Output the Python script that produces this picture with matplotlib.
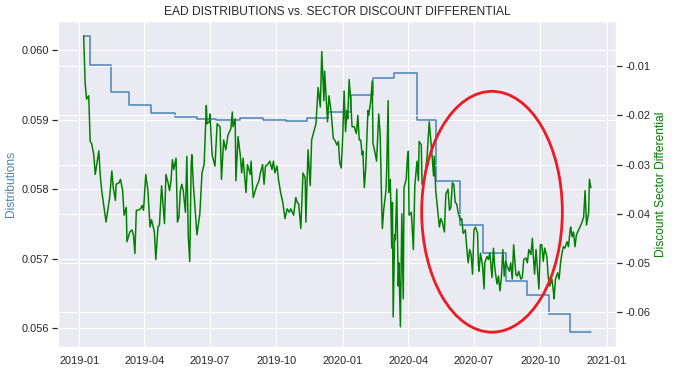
import matplotlib
matplotlib.use("Agg")

import matplotlib.dates as mdates
import matplotlib.pyplot as plt
import pandas as pd
import seaborn as sns
from matplotlib.patches import Ellipse

# monthly distribution level (step series)
blue_dates = [
    "2019-01-07", "2019-01-16", "2019-02-14", "2019-03-11", "2019-04-11",
    "2019-05-14", "2019-06-13", "2019-07-10", "2019-08-12", "2019-09-12",
    "2019-10-15", "2019-11-12", "2019-12-12", "2020-01-13", "2020-02-12",
    "2020-03-12", "2020-04-13", "2020-05-10", "2020-06-12", "2020-07-13",
    "2020-08-14", "2020-09-12", "2020-10-13", "2020-11-11", "2020-12-10",
]
blue_values = [
    0.060210, 0.059793, 0.059405, 0.059209, 0.059103,
    0.059045, 0.059012, 0.058998, 0.059022, 0.058994,
    0.058983, 0.059022, 0.059117, 0.059357, 0.059597,
    0.059678, 0.058998, 0.058125, 0.057488, 0.057090,
    0.056687, 0.056482, 0.056204, 0.055945, 0.055945,
]

# sector discount differential
green_dates = [
    "2019-01-07", "2019-01-09", "2019-01-11", "2019-01-14", "2019-01-16", "2019-01-18", "2019-01-21", "2019-01-23", "2019-01-28", "2019-01-30",
    "2019-02-01", "2019-02-07", "2019-02-12", "2019-02-13", "2019-02-15", "2019-02-17", "2019-02-20", "2019-02-21", "2019-02-25", "2019-02-27",
    "2019-03-02", "2019-03-04", "2019-03-07", "2019-03-08", "2019-03-12", "2019-03-15", "2019-03-17", "2019-03-19", "2019-03-21", "2019-03-23",
    "2019-03-27", "2019-03-29", "2019-03-31", "2019-04-03", "2019-04-06", "2019-04-09", "2019-04-11", "2019-04-15", "2019-04-17", "2019-04-20",
    "2019-04-22", "2019-04-25", "2019-04-29", "2019-05-01", "2019-05-04", "2019-05-06", "2019-05-08", "2019-05-10", "2019-05-12", "2019-05-15",
    "2019-05-17", "2019-05-19", "2019-05-21", "2019-05-23", "2019-05-25", "2019-05-28", "2019-05-30", "2019-06-01", "2019-06-03", "2019-06-05",
    "2019-06-06", "2019-06-08", "2019-06-10", "2019-06-13", "2019-06-17", "2019-06-20", "2019-06-23", "2019-06-26", "2019-06-27", "2019-06-30",
    "2019-07-01", "2019-07-04", "2019-07-08", "2019-07-11", "2019-07-15", "2019-07-17", "2019-07-20", "2019-07-23", "2019-07-26", "2019-07-30",
    "2019-08-01", "2019-08-02", "2019-08-05", "2019-08-06", "2019-08-09", "2019-08-12", "2019-08-14", "2019-08-16", "2019-08-20", "2019-08-22",
    "2019-08-26", "2019-08-27", "2019-08-30", "2019-09-04", "2019-09-07", "2019-09-09", "2019-09-12", "2019-09-14", "2019-09-16", "2019-09-19",
    "2019-09-22", "2019-09-25", "2019-09-27", "2019-09-29", "2019-10-02", "2019-10-04", "2019-10-07", "2019-10-10", "2019-10-13", "2019-10-16",
    "2019-10-19", "2019-10-21", "2019-10-25", "2019-10-28", "2019-10-30", "2019-11-01", "2019-11-04", "2019-11-07", "2019-11-10", "2019-11-11",
    "2019-11-14", "2019-11-17", "2019-11-19", "2019-11-22", "2019-11-25", "2019-11-28", "2019-12-01", "2019-12-03", "2019-12-06", "2019-12-07",
    "2019-12-11", "2019-12-13", "2019-12-16", "2019-12-19", "2019-12-21", "2019-12-24", "2019-12-26", "2019-12-28", "2019-12-30", "2020-01-01",
    "2020-01-03", "2020-01-05", "2020-01-07", "2020-01-08", "2020-01-10", "2020-01-12", "2020-01-14", "2020-01-17", "2020-01-20", "2020-01-22",
    "2020-01-24", "2020-01-26", "2020-01-28", "2020-01-29", "2020-01-31", "2020-02-02", "2020-02-05", "2020-02-06", "2020-02-09", "2020-02-11",
    "2020-02-12", "2020-02-15", "2020-02-17", "2020-02-20", "2020-02-22", "2020-02-24", "2020-02-25", "2020-02-27", "2020-03-01", "2020-03-02",
    "2020-03-04", "2020-03-05", "2020-03-07", "2020-03-09", "2020-03-10", "2020-03-11", "2020-03-13", "2020-03-14", "2020-03-16", "2020-03-18",
    "2020-03-19", "2020-03-21", "2020-03-23", "2020-03-25", "2020-03-26", "2020-03-29", "2020-03-31", "2020-04-01", "2020-04-02", "2020-04-05",
    "2020-04-06", "2020-04-08", "2020-04-10", "2020-04-13", "2020-04-15", "2020-04-16", "2020-04-19", "2020-04-20", "2020-04-23", "2020-04-25",
    "2020-04-27", "2020-04-30", "2020-05-02", "2020-05-04", "2020-05-06", "2020-05-07", "2020-05-09", "2020-05-11", "2020-05-14", "2020-05-16",
    "2020-05-18", "2020-05-21", "2020-05-23", "2020-05-26", "2020-05-28", "2020-05-30", "2020-06-01", "2020-06-03", "2020-06-05", "2020-06-07",
    "2020-06-09", "2020-06-12", "2020-06-14", "2020-06-16", "2020-06-19", "2020-06-21", "2020-06-23", "2020-06-25", "2020-06-27", "2020-06-29",
    "2020-07-01", "2020-07-03", "2020-07-06", "2020-07-07", "2020-07-08", "2020-07-10", "2020-07-13", "2020-07-15", "2020-07-16", "2020-07-19",
    "2020-07-21", "2020-07-23", "2020-07-26", "2020-07-28", "2020-07-30", "2020-08-02", "2020-08-04", "2020-08-06", "2020-08-08", "2020-08-10",
    "2020-08-12", "2020-08-14", "2020-08-16", "2020-08-19", "2020-08-21", "2020-08-23", "2020-08-25", "2020-08-28", "2020-08-30", "2020-09-01",
    "2020-09-04", "2020-09-06", "2020-09-08", "2020-09-11", "2020-09-13", "2020-09-15", "2020-09-18", "2020-09-20", "2020-09-21", "2020-09-23",
    "2020-09-25", "2020-09-27", "2020-09-29", "2020-10-01", "2020-10-03", "2020-10-05", "2020-10-07", "2020-10-10", "2020-10-12", "2020-10-14",
    "2020-10-17", "2020-10-19", "2020-10-20", "2020-10-22", "2020-10-25", "2020-10-27", "2020-10-29", "2020-10-31", "2020-11-02", "2020-11-04",
    "2020-11-07", "2020-11-09", "2020-11-11", "2020-11-12", "2020-11-14", "2020-11-16", "2020-11-18", "2020-11-20", "2020-11-23", "2020-11-25",
    "2020-11-27", "2020-11-30", "2020-12-02", "2020-12-04", "2020-12-07", "2020-12-08", "2020-12-10",
]
green_values = [
    -0.0038, -0.0133, -0.0167, -0.0160, -0.0253, -0.0257, -0.0280, -0.0320, -0.0272, -0.0323,
    -0.0353, -0.0417, -0.0367, -0.0350, -0.0313, -0.0347, -0.0373, -0.0340, -0.0337, -0.0330,
    -0.0353, -0.0403, -0.0387, -0.0457, -0.0437, -0.0433, -0.0443, -0.0481, -0.0393, -0.0393,
    -0.0390, -0.0383, -0.0393, -0.0320, -0.0353, -0.0427, -0.0412, -0.0437, -0.0493, -0.0427,
    -0.0423, -0.0343, -0.0420, -0.0320, -0.0337, -0.0353, -0.0333, -0.0290, -0.0310, -0.0287,
    -0.0417, -0.0407, -0.0353, -0.0340, -0.0353, -0.0397, -0.0283, -0.0447, -0.0497, -0.0300,
    -0.0280, -0.0340, -0.0380, -0.0443, -0.0400, -0.0317, -0.0299, -0.0180, -0.0217, -0.0213,
    -0.0197, -0.0280, -0.0303, -0.0217, -0.0223, -0.0330, -0.0250, -0.0270, -0.0240, -0.0227,
    -0.0193, -0.0223, -0.0207, -0.0333, -0.0243, -0.0280, -0.0317, -0.0287, -0.0357, -0.0300,
    -0.0320, -0.0293, -0.0367, -0.0343, -0.0333, -0.0317, -0.0300, -0.0340, -0.0303, -0.0300,
    -0.0293, -0.0310, -0.0293, -0.0317, -0.0303, -0.0330, -0.0357, -0.0377, -0.0410, -0.0390,
    -0.0397, -0.0390, -0.0403, -0.0367, -0.0377, -0.0380, -0.0430, -0.0317, -0.0327, -0.0417,
    -0.0270, -0.0343, -0.0250, -0.0233, -0.0217, -0.0143, -0.0183, -0.0070, -0.0170, -0.0110,
    -0.0213, -0.0160, -0.0193, -0.0247, -0.0250, -0.0260, -0.0253, -0.0297, -0.0307, -0.0247,
    -0.0150, -0.0233, -0.0190, -0.0207, -0.0127, -0.0167, -0.0223, -0.0223, -0.0237, -0.0200,
    -0.0250, -0.0250, -0.0280, -0.0273, -0.0347, -0.0307, -0.0190, -0.0200, -0.0170, -0.0130,
    -0.0257, -0.0277, -0.0293, -0.0197, -0.0240, -0.0377, -0.0430, -0.0390, -0.0353, -0.0313,
    -0.0170, -0.0357, -0.0330, -0.0470, -0.0377, -0.0610, -0.0443, -0.0453, -0.0350, -0.0547,
    -0.0500, -0.0630, -0.0400, -0.0573, -0.0347, -0.0330, -0.0280, -0.0273, -0.0403, -0.0397,
    -0.0417, -0.0473, -0.0343, -0.0293, -0.0333, -0.0253, -0.0260, -0.0340, -0.0333, -0.0310,
    -0.0283, -0.0213, -0.0247, -0.0283, -0.0323, -0.0283, -0.0353, -0.0383, -0.0427, -0.0410,
    -0.0417, -0.0437, -0.0360, -0.0350, -0.0393, -0.0387, -0.0337, -0.0340, -0.0377, -0.0380,
    -0.0397, -0.0413, -0.0410, -0.0440, -0.0433, -0.0470, -0.0500, -0.0473, -0.0483, -0.0523,
    -0.0433, -0.0427, -0.0440, -0.0500, -0.0517, -0.0480, -0.0507, -0.0553, -0.0500, -0.0487,
    -0.0493, -0.0480, -0.0530, -0.0470, -0.0513, -0.0543, -0.0527, -0.0557, -0.0530, -0.0473,
    -0.0527, -0.0497, -0.0507, -0.0517, -0.0500, -0.0533, -0.0463, -0.0523, -0.0527, -0.0517,
    -0.0533, -0.0530, -0.0493, -0.0490, -0.0500, -0.0473, -0.0483, -0.0450, -0.0480, -0.0523,
    -0.0473, -0.0513, -0.0553, -0.0463, -0.0463, -0.0497, -0.0470, -0.0487, -0.0530, -0.0547,
    -0.0533, -0.0557, -0.0573, -0.0533, -0.0520, -0.0533, -0.0500, -0.0480, -0.0467, -0.0470,
    -0.0457, -0.0467, -0.0437, -0.0427, -0.0447, -0.0437, -0.0467, -0.0443, -0.0433, -0.0427,
    -0.0420, -0.0407, -0.0353, -0.0423, -0.0397, -0.0330, -0.0347,
]

sns.set_theme()
plt.rcParams["font.family"] = ["Liberation Sans", "DejaVu Sans"]
plt.rcParams["axes.unicode_minus"] = False

fig, ax = plt.subplots(figsize=(675 / 72, 374 / 72), dpi=72)
fig.subplots_adjust(left=0.0864, right=0.9129, bottom=0.0722, top=0.9439)

ax.step(pd.to_datetime(blue_dates), blue_values, where="post", color="steelblue")
ax.set_ylabel("Distributions", color="steelblue")

ax2 = ax.twinx()
ax2.plot(pd.to_datetime(green_dates), green_values, color="green")
ax2.set_ylabel("Discount Sector Differential", color="green")

ax.set_title("EAD DISTRIBUTIONS vs. SECTOR DISCOUNT DIFFERENTIAL")

# hand-drawn style highlight around the 2020 trough
ring = Ellipse((mdates.date2num(pd.Timestamp("2020-07-26")), -0.0396),
               width=195, height=0.049, fill=False, edgecolor="#ED1C24",
               linewidth=2.8, zorder=10)
ax2.add_patch(ring)

fig.savefig("out.png", dpi=72)
